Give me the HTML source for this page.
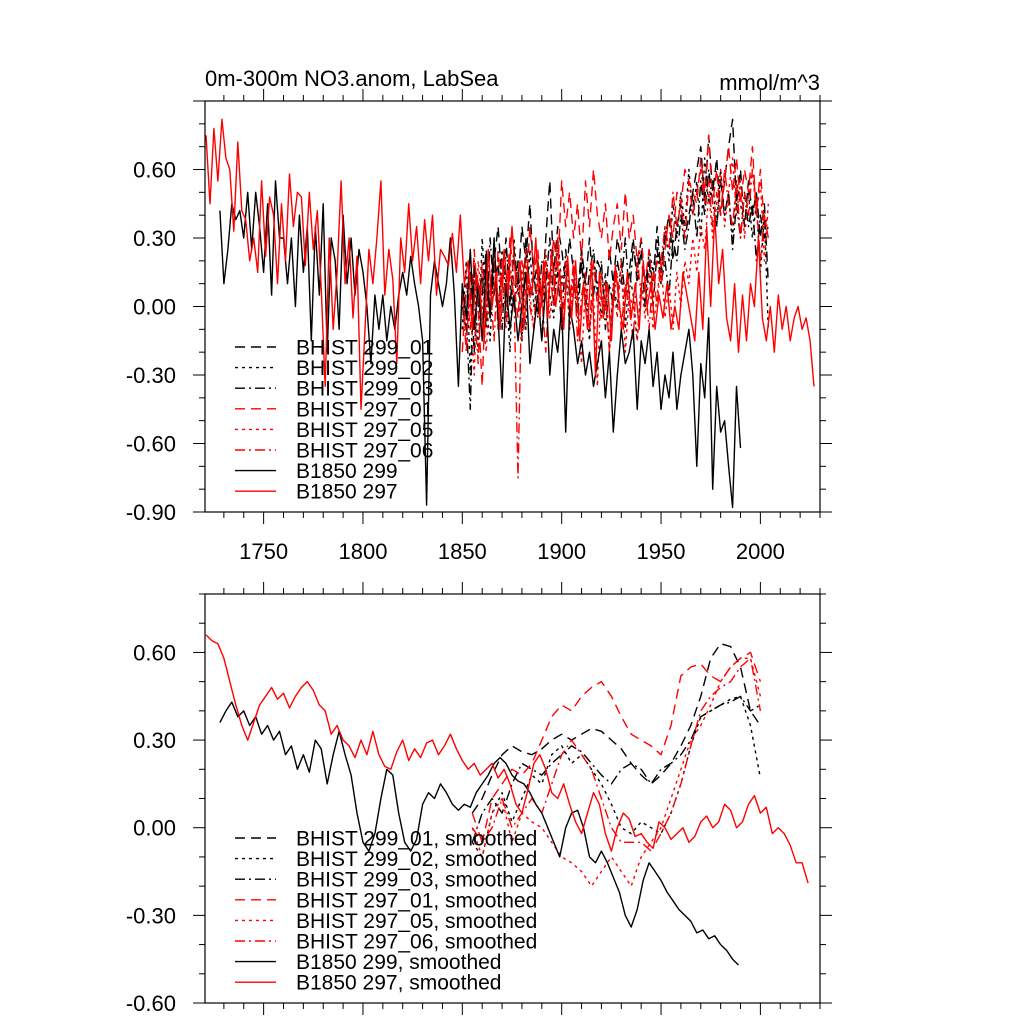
<!DOCTYPE html>
<html><head><meta charset="utf-8"><style>
html,body{margin:0;padding:0;background:#fff;}
svg{display:block;font-family:"Liberation Sans",sans-serif;}
</style></head><body>
<svg id="chart" width="1024" height="1024" viewBox="0 0 1024 1024"></svg>
<script>
// ---------- data ----------
const xTicks=[1750,1800,1850,1900,1950,2000];
const topYTicks=[0.6,0.3,0,-0.3,-0.6,-0.9];
const botYTicks=[0.6,0.3,0,-0.3,-0.6];
const legendTop=["BHIST 299_01","BHIST 299_02","BHIST 299_03","BHIST 297_01","BHIST 297_05","BHIST 297_06","B1850 299","B1850 297"];
const legendBot=["BHIST 299_01, smoothed","BHIST 299_02, smoothed","BHIST 299_03, smoothed","BHIST 297_01, smoothed","BHIST 297_05, smoothed","BHIST 297_06, smoothed","B1850 299, smoothed","B1850 297, smoothed"];

const rawB297Start=1721;
const rawB297=[0.75,0.45,0.78,0.55,0.82,0.65,0.60,0.33,0.72,0.42,0.38,0.20,0.30,0.15,0.55,0.22,0.48,0.40,0.10,0.45,0.20,0.58,0.35,0.50,0.48,0.18,0.50,0.25,0.42,0.08,-0.35,0.30,-0.10,0.15,0.55,0.10,0.30,-0.05,0.22,-0.45,-0.10,0.25,0.10,0.30,0.55,0.05,0.25,0.12,-0.25,0.30,0.15,0.45,0.20,0.35,0.10,0.38,0.20,0.40,0.05,0.25,0.22,0.18,0.32,0.15,0.40,0.10,
0.20,-0.1,0.15,0.05,-0.15,0.25,0.0,0.15,-0.1,0.25,0.05,0.35,0.1,0.2,-0.1,0.15,0.05,0.3,-0.05,0.2,-0.05,0.25,0.0,0.15,-0.1,0.22,-0.05,0.2,-0.15,0.1,-0.1,0.2,-0.3,0.15,-0.05,0.1,-0.15,0.18,0.0,-0.1,0.15,-0.05,0.1,-0.1,0.2,0.0,0.1,-0.1,0.05,-0.05,0.1,-0.1,0.0,-0.1,0.15,0.05,-0.05,-0.15,0.15,-0.1,0.35,0.0,0.4,0.1,0.25,-0.05,-0.15,0.1,-0.2,0.05,-0.15,0.1,0.0,0.3,-0.05,-0.15,0.0,-0.2,0.05,-0.1,0.0,-0.15,-0.05,0.0,-0.1,-0.05,-0.15,-0.35];
const rawB299Start=1728;
const rawB299=[0.42,0.10,0.25,0.45,0.38,0.42,0.30,0.50,0.25,0.50,0.35,0.15,0.45,0.05,0.55,0.30,0.30,0.10,0.30,0.00,0.40,0.15,0.35,-0.15,0.35,0.05,0.45,-0.20,0.30,0.20,-0.10,0.40,0.10,0.30,0.05,0.25,0.15,0.00,-0.25,0.05,-0.10,0.05,-0.15,0.00,-0.10,0.05,0.15,0.05,0.22,0.10,0.00,-0.15,-0.87,0.05,0.20,0.10,0.00,0.10,0.30,0.05,-0.35,0.10,-0.05,0.25,-0.10,0.10,-0.15,0.20,-0.05,0.30,-0.05,-0.40,0.10,-0.10,0.05,-0.15,0.00,0.15,-0.25,-0.10,0.05,-0.15,0.10,-0.30,-0.10,-0.20,0.0,-0.55,0.0,-0.1,-0.25,-0.15,-0.30,-0.20,-0.35,-0.25,-0.15,-0.40,-0.20,-0.55,-0.30,-0.10,-0.25,-0.20,-0.10,-0.45,-0.15,-0.25,-0.10,-0.35,-0.20,-0.45,-0.30,-0.40,-0.20,-0.45,-0.30,-0.20,-0.10,-0.30,-0.70,-0.25,-0.40,-0.05,-0.80,-0.35,-0.55,-0.50,-0.70,-0.88,-0.35,-0.62];
const rawHistStart=1850;
const raw29901=[0.0,-0.1,0.15,-0.2,0.1,0.05,0.25,-0.05,0.2,0.35,0.1,0.3,0.0,0.25,0.1,0.35,0.2,0.45,0.1,0.2,0.0,0.3,0.55,0.15,0.35,0.25,0.1,0.3,0.15,0.05,0.25,0.1,0.3,0.05,0.2,0.15,0.0,0.25,0.1,0.3,0.2,0.05,0.15,0.3,0.1,0.25,0.0,0.2,0.1,0.35,0.15,0.3,0.4,0.2,0.35,0.45,0.3,0.4,0.5,0.6,0.7,0.45,0.75,0.5,0.65,0.4,0.55,0.7,0.82,0.45,0.6,0.35,0.55,0.4,0.5,0.3,0.45,0.1];
const raw29902=[-0.1,0.2,-0.3,0.15,-0.2,0.3,0.0,-0.15,0.2,-0.05,0.25,0.1,-0.2,0.3,0.05,0.15,-0.1,0.25,0.0,0.1,-0.15,0.2,0.05,-0.05,0.3,0.1,0.2,-0.1,0.15,0.0,0.25,0.05,-0.15,0.2,0.1,-0.05,0.15,-0.2,0.1,0.0,0.2,-0.1,0.15,0.05,-0.15,0.1,0.0,0.25,0.15,0.3,0.1,0.35,0.2,0.45,0.3,0.5,0.35,0.6,0.4,0.55,0.3,0.65,0.45,0.55,0.35,0.6,0.4,0.5,0.3,0.55,0.45,0.35,0.5,0.3,0.45,0.15,0.4,-0.1];
const raw29903=[0.1,-0.05,-0.45,0.2,0.0,0.15,-0.1,0.3,0.05,0.2,-0.1,0.25,0.1,0.0,0.2,-0.15,0.3,0.05,0.15,-0.05,0.2,0.1,0.3,0.0,0.15,-0.1,0.25,0.05,0.1,-0.05,0.2,0.0,0.15,0.25,0.05,0.2,-0.1,0.1,0.0,0.2,0.1,0.3,0.05,0.25,0.15,0.3,0.1,0.2,0.0,0.25,0.1,0.2,0.05,0.3,0.2,0.4,0.25,0.35,0.5,0.3,0.55,0.4,0.6,0.45,0.35,0.55,0.4,0.5,0.25,0.45,0.3,0.5,0.35,0.45,0.2,0.4,0.3,0.35];
const raw29701=[-0.2,0.1,-0.1,0.25,0.0,-0.35,0.15,0.05,0.25,-0.1,0.2,0.0,0.3,0.1,-0.05,0.2,0.05,0.35,0.15,0.25,0.0,0.2,0.1,0.3,0.15,0.55,0.35,0.5,0.3,0.45,0.2,0.55,0.35,0.6,0.4,0.3,0.45,0.2,0.35,0.45,0.25,0.5,0.3,0.4,0.2,0.3,0.1,0.25,0.05,0.2,0.1,0.25,0.4,0.3,0.5,0.45,0.6,0.55,0.5,0.45,0.65,0.5,0.75,0.45,0.6,0.4,0.55,0.7,0.5,0.65,0.45,0.6,0.5,0.7,0.4,0.6,0.35,0.4];
const raw29705=[0.1,-0.15,0.05,-0.3,0.2,0.0,-0.2,0.1,0.25,-0.1,0.15,-0.05,0.2,0.0,0.1,-0.15,0.2,0.05,-0.1,0.15,0.0,0.25,-0.05,0.1,0.3,0.05,0.2,-0.1,0.15,0.0,-0.25,0.1,-0.1,0.05,-0.35,0.15,0.0,-0.15,0.1,-0.05,0.2,-0.2,0.05,0.0,-0.15,0.1,-0.05,0.15,-0.1,0.05,0.2,-0.05,0.1,-0.1,0.15,0.0,0.2,0.1,0.3,0.15,0.35,0.25,0.5,0.3,0.45,0.6,0.35,0.5,0.65,0.4,0.55,0.3,0.5,0.6,0.4,0.55,0.2,0.45];
const raw29706=[0.05,-0.2,0.15,0.0,-0.25,0.2,-0.05,0.1,-0.15,0.25,0.0,-0.1,0.15,0.05,-0.75,0.1,0.25,0.0,-0.1,0.2,0.05,-0.2,0.15,0.0,0.3,-0.1,0.1,0.0,0.2,-0.15,0.05,0.15,-0.1,0.2,0.0,-0.05,0.1,-0.2,0.05,0.15,-0.1,0.1,0.0,-0.15,0.2,0.05,0.1,-0.1,0.15,0.0,0.2,0.35,0.25,0.5,0.35,0.45,0.3,0.55,0.4,0.5,0.6,0.45,0.55,0.35,0.5,0.4,0.6,0.45,0.35,0.55,0.3,0.5,0.4,0.6,0.45,0.2,0.4,0.3];

const smB297Start=1721;
const smB297=[0.66,0.64,0.63,0.58,0.50,0.42,0.35,0.30,0.36,0.42,0.45,0.48,0.44,0.46,0.41,0.45,0.48,0.50,0.47,0.42,0.40,0.32,0.35,0.30,0.28,0.24,0.30,0.25,0.33,0.25,0.21,0.20,0.26,0.30,0.23,0.27,0.24,0.29,0.30,0.25,0.28,0.32,0.27,0.23,0.20,0.22,0.18,0.20,0.22,0.17,0.20,0.15,0.08,0.05,0.13,0.22,0.25,0.20,0.12,0.10,0.15,0.08,0.02,-0.02,0.05,0.12,0.08,-0.02,-0.08,0.0,0.05,0.03,-0.03,-0.02,-0.05,-0.07,0.02,0.0,-0.04,-0.02,0.0,-0.05,-0.03,0.02,0.04,0.0,0.02,0.08,0.06,0.0,0.02,0.08,0.11,0.05,0.07,-0.02,0.0,-0.02,-0.06,-0.12,-0.12,-0.19];
const smB299Start=1728;
const smB299=[0.36,0.40,0.43,0.38,0.40,0.35,0.38,0.32,0.35,0.30,0.33,0.25,0.28,0.20,0.25,0.19,0.30,0.27,0.15,0.25,0.33,0.25,0.18,0.05,-0.05,-0.08,-0.02,0.10,0.20,0.18,0.05,-0.05,-0.08,-0.04,0.08,0.12,0.10,0.15,0.12,0.08,0.06,0.08,0.07,0.12,0.15,0.18,0.22,0.24,0.22,0.18,0.16,0.15,0.12,0.08,0.05,0.0,-0.05,-0.10,0.0,0.05,0.06,0.0,-0.10,-0.12,-0.08,-0.12,-0.17,-0.22,-0.30,-0.34,-0.28,-0.18,-0.12,-0.15,-0.18,-0.22,-0.25,-0.28,-0.30,-0.32,-0.36,-0.35,-0.38,-0.37,-0.40,-0.42,-0.45,-0.47];
const smHistStart=1855;
const sm29901=[0.05,0.10,0.18,0.25,0.28,0.26,0.25,0.27,0.30,0.32,0.30,0.32,0.34,0.33,0.30,0.27,0.22,0.18,0.15,0.18,0.22,0.28,0.35,0.45,0.58,0.63,0.62,0.55,0.40,0.35];
const sm29902=[-0.05,-0.10,0.05,0.12,0.02,0.10,0.18,0.15,0.25,0.28,0.22,0.25,0.20,0.15,0.08,0.0,-0.02,0.02,0.0,-0.02,0.05,0.15,0.28,0.38,0.40,0.42,0.44,0.45,0.35,0.17];
const sm29903=[-0.05,0.05,0.10,0.05,0.15,0.22,0.20,0.18,0.22,0.25,0.28,0.26,0.22,0.18,0.15,0.20,0.22,0.20,0.15,0.20,0.22,0.25,0.30,0.38,0.40,0.42,0.43,0.45,0.40,0.42];
const sm29701=[0.0,-0.05,0.10,0.15,0.20,0.18,0.22,0.30,0.38,0.42,0.40,0.45,0.48,0.50,0.45,0.38,0.32,0.30,0.28,0.25,0.35,0.52,0.55,0.56,0.52,0.50,0.55,0.58,0.60,0.50];
const sm29705=[0.0,-0.10,0.05,0.10,-0.05,0.05,0.02,0.0,-0.05,-0.10,-0.12,-0.15,-0.20,-0.15,-0.10,-0.15,-0.20,-0.10,-0.05,0.0,0.10,0.20,0.30,0.35,0.42,0.50,0.55,0.58,0.58,0.45];
const sm29706=[0.05,-0.05,0.0,0.10,0.0,0.05,0.10,0.05,0.15,0.25,0.30,0.25,0.20,0.10,0.0,-0.05,-0.05,-0.05,-0.08,-0.02,0.05,0.15,0.28,0.40,0.45,0.48,0.50,0.55,0.58,0.40];

// ---------- drawing ----------
const NS="http://www.w3.org/2000/svg";
const svg=document.getElementById('chart');
const X0=205,X1=820,YR0=1720.5,YR1=2030;
function xs(yr){return X0+(yr-YR0)/(YR1-YR0)*(X1-X0);}
function mk(tag,attrs,parent){const e=document.createElementNS(NS,tag);for(const k in attrs)e.setAttribute(k,attrs[k]);(parent||svg).appendChild(e);return e;}
const DASH={dash:"10,6",dot:"3,4",dashdot:"10,4,2,4",solid:"none"};
const styles=[["#000","dash"],["#000","dot"],["#000","dashdot"],["#f00","dash"],["#f00","dot"],["#f00","dashdot"],["#000","solid"],["#f00","solid"]];

function panel(name,top,bottom,vmax,vmin,yticks,showXLabels,series,legend,legY){
  const g=mk('g',{});
  
  
  const ys=v=>top+(vmax-v)/(vmax-vmin)*(bottom-top);
  series.forEach((s,i)=>{
    const pts=s.vals.map((v,k)=>xs(s.start+k*s.step).toFixed(1)+","+ys(v).toFixed(1)).join(" ");
    const pl=mk('polyline',{points:pts,fill:"none",stroke:styles[i][0],"stroke-width":1.4,"stroke-dasharray":DASH[styles[i][1]],"stroke-linejoin":"round"},g);
    
    
  });
  const fr=mk('rect',{x:X0,y:top,width:X1-X0,height:bottom-top,fill:"none",stroke:"#000","stroke-width":1.2},g);
  
  
  for(let yr=1730;yr<=2030;yr+=10){
    const major=yr%50===0, L=major?12:6, x=xs(yr);
    if(x<X0||x>X1)continue;
    mk('line',{x1:x,x2:x,y1:bottom,y2:bottom+L,stroke:"#000","stroke-width":1},g);
    mk('line',{x1:x,x2:x,y1:top,y2:top-L,stroke:"#000","stroke-width":1},g);
  }
  if(showXLabels){xTicks.forEach(t=>{
    const tx=mk('text',{x:xs(t),y:bottom+47,"text-anchor":"middle","font-size":22},g);tx.textContent=t;
    
    
  });}
  for(let k=Math.ceil(vmin*10-1e-6);k<=Math.floor(vmax*10+1e-6);k++){
    const v=k/10, y=ys(v), major=(k%3===0), L=major?12:6;
    mk('line',{x1:X0,x2:X0-L,y1:y,y2:y,stroke:"#000","stroke-width":1},g);
    mk('line',{x1:X1,x2:X1+L,y1:y,y2:y,stroke:"#000","stroke-width":1},g);
  }
  yticks.forEach(v=>{
    const tx=mk('text',{x:176,y:ys(v)+8,"text-anchor":"end","font-size":22},g);tx.textContent=v.toFixed(2);
    
    
  });
  legend.forEach((lab,i)=>{
    const y=legY+i*20.6;
    const ln=mk('line',{x1:235,x2:276,y1:y,y2:y,stroke:styles[i][0],"stroke-width":1.4,"stroke-dasharray":DASH[styles[i][1]]},g);
    
    
    const tx=mk('text',{x:296,y:y+7.5,"font-size":21},g);tx.textContent=lab;
    
    
  });
}
const topSeries=[
 {start:rawHistStart,step:2,vals:raw29901},{start:rawHistStart,step:2,vals:raw29902},{start:rawHistStart,step:2,vals:raw29903},
 {start:rawHistStart,step:2,vals:raw29701},{start:rawHistStart,step:2,vals:raw29705},{start:rawHistStart,step:2,vals:raw29706},
 {start:rawB299Start,step:2,vals:rawB299},{start:rawB297Start,step:2,vals:rawB297}];
const botSeries=[
 {start:smHistStart,step:5,vals:sm29901},{start:smHistStart,step:5,vals:sm29902},{start:smHistStart,step:5,vals:sm29903},
 {start:smHistStart,step:5,vals:sm29701},{start:smHistStart,step:5,vals:sm29705},{start:smHistStart,step:5,vals:sm29706},
 {start:smB299Start,step:3,vals:smB299},{start:smB297Start,step:3,vals:smB297}];
panel('top-panel',101,512,0.9,-0.9,topYTicks,true,topSeries,legendTop,347);
panel('bottom-panel',594,1003,0.8,-0.6,botYTicks,false,botSeries,legendBot,838);

const t1=mk('text',{x:205,y:86,"font-size":22});t1.textContent="0m-300m NO3.anom, LabSea";


const t2=mk('text',{x:820,y:90,"font-size":22,"text-anchor":"end"});t2.textContent="mmol/m^3";


</script>
</body></html>
